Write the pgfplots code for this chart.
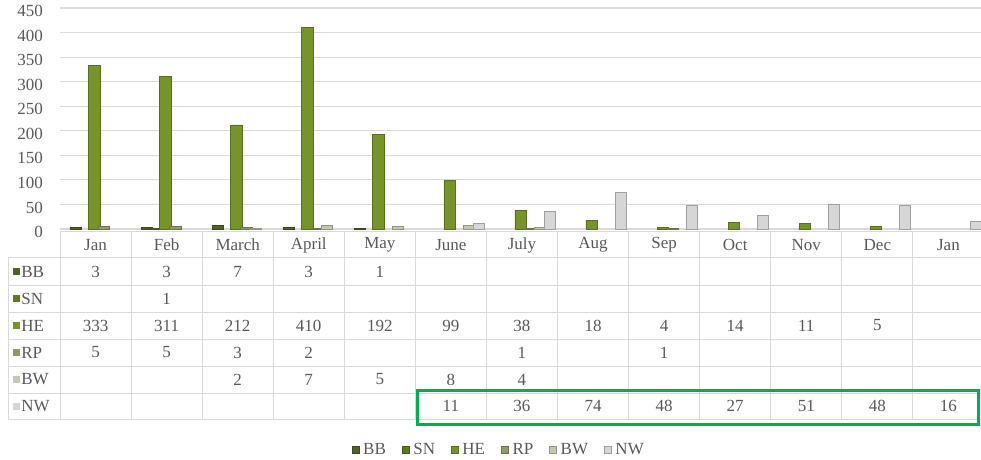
\documentclass[border=0pt]{standalone}
\usepackage{pgfplots}
\pgfplotsset{compat=1.18}
\usepackage{fontspec}
\setmainfont{Liberation Serif}

\definecolor{cBB}{HTML}{4F6228}
\definecolor{cSN}{HTML}{5F7A1E}
\definecolor{cHE}{HTML}{76942A}
\definecolor{cRP}{HTML}{8E9C68}
\definecolor{cBW}{HTML}{C3C8B2}
\definecolor{cNW}{HTML}{D6D6D6}
\definecolor{txt}{HTML}{595959}
\definecolor{grd}{HTML}{D9D9D9}
\definecolor{hl}{HTML}{00B050}

\pgfplotsset{sqlegend/.style={legend image code/.code={\fill[##1] (0pt,-1.7pt) rectangle (3.4pt,1.7pt);}}}

\begin{document}
\begin{tikzpicture}
\path[use as bounding box] (0,0) rectangle (490.5pt,-230pt);
\begin{axis}[
    at={(30pt,-114.5pt)}, anchor=south west,
    scale only axis, width=462pt, height=110.5pt,
    xmin=-0.5, xmax=12.5, ymin=0, ymax=450,
    ytick distance=50,
    xtick={0,...,12},
    xticklabels={Jan,Feb,March,April,May,June,July,Aug,Sep,Oct,Nov,Dec,Jan},
    major tick length=0pt,
    axis line style={draw=none},
    ymajorgrids, grid style={grd, line width=0.6pt},
    ybar, bar width=0.16,
    font=\fontsize{8.5}{10}\selectfont,
    tick label style={text=txt},
    xticklabel style={anchor=center, yshift=-8pt},
    yticklabel style={xshift=-5pt, yshift=-1.5pt},
    /pgf/number format/assume math mode=true,
    legend columns=6,
    legend style={at={(0.476,-1.0)}, anchor=center, draw=none, fill=none,
      text=txt, font=\fontsize{8.5}{10}\selectfont,
      /tikz/every even column/.append style={column sep=6pt}},
  ]
  \addplot[sqlegend, fill=cBB, draw=cBB!75!black, line width=0.3pt, bar shift=-0.28]
    coordinates {(0,3) (1,3) (2,7) (3,3) (4,1)};
  \addplot[sqlegend, fill=cSN, draw=cSN!75!black, line width=0.3pt, bar shift=-0.15]
    coordinates {(1,1)};
  \addplot[sqlegend, fill=cHE, draw=cHE!75!black, line width=0.3pt, bar shift=-0.02]
    coordinates {(0,333) (1,311) (2,212) (3,410) (4,192) (5,99) (6,38)
                 (7,18) (8,4) (9,14) (10,11) (11,5)};
  \addplot[sqlegend, fill=cRP, draw=cRP!75!black, line width=0.3pt, bar shift=0.12]
    coordinates {(0,5) (1,5) (2,3) (3,2) (6,1) (8,1)};
  \addplot[sqlegend, fill=cBW, draw=cBW!75!black, line width=0.3pt, bar shift=0.25]
    coordinates {(2,2) (3,7) (4,5) (5,8) (6,4)};
  \addplot[sqlegend, fill=cNW, draw=cNW!75!black, line width=0.3pt, bar shift=0.39]
    coordinates {(5,11) (6,36) (7,74) (8,48) (9,27) (10,51) (11,48) (12,16)};
  \legend{BB,SN,HE,RP,BW,NW}
\end{axis}

% data table under the chart (pixel units, y downwards)
\begin{scope}[x=0.5pt, y=-0.5pt, font=\fontsize{8.5}{10}\selectfont, text=txt]
  \foreach \yy in {258,285,312,339,366,393,419}
    \draw[grd, line width=0.5pt] (8,\yy) -- (984,\yy);
  \draw[grd, line width=0.5pt] (60,232) -- (984,232);
  \foreach \i in {0,...,13}
    \draw[grd, line width=0.5pt] ({60+71.08*\i},232) -- ({60+71.08*\i},419);
  \draw[grd, line width=0.5pt] (8,258) -- (8,419);

  \foreach \lab/\col [count=\r from 0] in {BB/cBB,SN/cSN,HE/cHE,RP/cRP,BW/cBW,NW/cNW} {
    \fill[\col] (13,{268+27*\r}) rectangle (20,{275+27*\r});
    \node[anchor=west, inner sep=0pt] at (21,{271.5+27*\r}) {\lab};
  }

  \foreach \v [count=\i from 0] in {3,3,7,3,1}
    \node at ({95.5+71.08*\i},271.5) {\v};
  \foreach \v [count=\i from 0] in {,1}
    \node at ({95.5+71.08*\i},298.5) {\v};
  \foreach \v [count=\i from 0] in {333,311,212,410,192,99,38,18,4,14,11,5}
    \node at ({95.5+71.08*\i},325.5) {\v};
  \foreach \v [count=\i from 0] in {5,5,3,2,,,1,,1}
    \node at ({95.5+71.08*\i},352.5) {\v};
  \foreach \v [count=\i from 0] in {,,2,7,5,8,4}
    \node at ({95.5+71.08*\i},379.5) {\v};
  \foreach \v [count=\i from 0] in {,,,,,11,36,74,48,27,51,48,16}
    \node at ({95.5+71.08*\i},406) {\v};

  \draw[hl, line width=1.5pt] (417,390) rectangle (978,424);
\end{scope}
\end{tikzpicture}
\end{document}
